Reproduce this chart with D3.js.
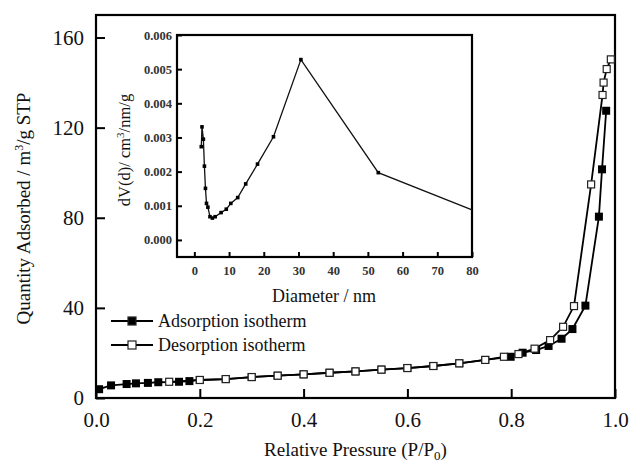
<!DOCTYPE html>
<html>
<head>
<meta charset="utf-8">
<script src="https://cdn.jsdelivr.net/npm/d3@7"></script>
<style>
  body { margin: 0; background: #fff; }
  svg text { font-family: "Liberation Serif", "Times New Roman", "DejaVu Serif", serif; }
</style>
</head>
<body>
<div id="chart"></div>
<script>
// main isotherm data (P/P0, quantity adsorbed)
const adsP = [0.006, 0.029, 0.059, 0.077, 0.10, 0.12, 0.16, 0.18, 0.20, 0.25, 0.30, 0.35, 0.40, 0.45, 0.50, 0.55, 0.60, 0.65, 0.70, 0.75, 0.799, 0.822, 0.848, 0.872, 0.897, 0.918, 0.943, 0.969, 0.975, 0.983];
const adsQ = [3.9, 5.6, 6.2, 6.5, 6.7, 7.0, 7.2, 7.5, 8.0, 8.4, 9.3, 9.9, 10.5, 11.2, 11.8, 12.6, 13.3, 14.2, 15.4, 16.9, 18.3, 20.1, 21.3, 23.1, 26.3, 30.6, 41.0, 80.5, 101.5, 127.5];
const desP = [0.141, 0.20, 0.25, 0.30, 0.35, 0.40, 0.45, 0.50, 0.55, 0.60, 0.65, 0.70, 0.75, 0.786, 0.814, 0.845, 0.875, 0.90, 0.921, 0.954, 0.976, 0.978, 0.984, 0.992];
const desQ = [7.2, 8.0, 8.4, 9.3, 9.9, 10.5, 11.2, 11.8, 12.6, 13.3, 14.2, 15.4, 16.9, 18.3, 19.5, 21.9, 25.7, 31.6, 40.8, 94.8, 134.5, 140.0, 146.0, 150.3];

// inset pore size distribution
const poreD = [2.0, 2.2, 2.6, 2.9, 3.2, 3.5, 3.9, 4.5, 5.2, 6.0, 7.7, 9.2, 10.5, 12.5, 14.8, 18.2, 22.8, 30.7, 53.0, 80.0];
const poreV = [0.00273, 0.00331, 0.00295, 0.00216, 0.00151, 0.00107, 0.00096, 0.00068, 0.00064, 0.00068, 0.0008, 0.0009, 0.00107, 0.00124, 0.00164, 0.00222, 0.00302, 0.00528, 0.00197, 0.00088];

const mainXTicks = [0, 0.2, 0.4, 0.6, 0.8, 1.0];
const mainYTicks = [0, 40, 80, 120, 160];
const insetXTicks = [0, 10, 20, 30, 40, 50, 60, 70, 80];
const insetYTicks = [0, 0.001, 0.002, 0.003, 0.004, 0.005, 0.006];

const serif = '"Liberation Serif", "Times New Roman", "DejaVu Serif", serif';
const width = 631, height = 465;
const svg = d3.select("#chart").append("svg")
    .attr("width", width)
    .attr("height", height)
    .attr("font-family", serif);

// main plot
const x = d3.scaleLinear().domain([0, 1]).range([96, 615]);
const y = d3.scaleLinear().domain([0, 170]).range([398, 15]);

const xAxis = svg.append("g")
    .attr("transform", `translate(0,${y(0)})`)
    .call(d3.axisBottom(x).tickValues(mainXTicks).tickFormat(d3.format(".1f"))
        .tickSizeInner(-9).tickSizeOuter(0).tickPadding(14));
const yAxis = svg.append("g")
    .attr("transform", `translate(${x(0)},0)`)
    .call(d3.axisLeft(y).tickValues(mainYTicks)
        .tickSizeInner(-9).tickSizeOuter(0).tickPadding(12));
[xAxis, yAxis].forEach(a => {
    a.attr("font-family", serif);
    a.select(".domain").remove();
    a.selectAll("line").attr("stroke", "#000").attr("stroke-width", 2);
    a.selectAll("text").attr("font-size", 21).attr("fill", "#111");
});

svg.append("rect")
    .attr("x", x(0)).attr("y", y(170))
    .attr("width", x(1) - x(0)).attr("height", y(0) - y(170))
    .attr("fill", "none").attr("stroke", "#000").attr("stroke-width", 2.2);

svg.append("text")
    .attr("x", (x(0) + x(1)) / 2).attr("y", 456)
    .attr("text-anchor", "middle").attr("font-size", 19).attr("fill", "#111")
    .html('Relative Pressure (P/P<tspan font-size="13" dy="4">0</tspan><tspan dy="-4">)</tspan>');

svg.append("text")
    .attr("transform", `translate(30,${(y(0) + y(170)) / 2 + 2}) rotate(-90)`)
    .attr("text-anchor", "middle").attr("font-size", 19).attr("fill", "#111")
    .html('Quantity Adsorbed / m<tspan font-size="12" dy="-7">3</tspan><tspan dy="7">/g STP</tspan>');

const line = d3.line().x(d => x(d[0])).y(d => y(d[1]));
const ads = adsP.map((p, i) => [p, adsQ[i]]);
const des = desP.map((p, i) => [p, desQ[i]]);
const sq = 8;

svg.append("path").datum(ads).attr("d", line)
    .attr("fill", "none").attr("stroke", "#000").attr("stroke-width", 1.8);
svg.append("path").datum(des).attr("d", line)
    .attr("fill", "none").attr("stroke", "#000").attr("stroke-width", 1.8);
svg.append("g").selectAll("rect").data(ads).join("rect")
    .attr("x", d => x(d[0]) - sq / 2).attr("y", d => y(d[1]) - sq / 2)
    .attr("width", sq).attr("height", sq).attr("fill", "#000");
svg.append("g").selectAll("rect").data(des).join("rect")
    .attr("x", d => x(d[0]) - sq / 2 + 0.5).attr("y", d => y(d[1]) - sq / 2 + 0.5)
    .attr("width", sq - 1).attr("height", sq - 1)
    .attr("fill", "#fff").attr("stroke", "#222").attr("stroke-width", 1.2);

// legend
const legend = [
    {label: "Adsorption isotherm", fill: "#000", yy: 321},
    {label: "Desorption isotherm", fill: "#fff", yy: 345}
];
legend.forEach(l => {
    svg.append("line").attr("x1", 111).attr("x2", 153).attr("y1", l.yy).attr("y2", l.yy)
        .attr("stroke", "#000").attr("stroke-width", 1.8);
    svg.append("rect").attr("x", 132 - 4).attr("y", l.yy - 4).attr("width", 8).attr("height", 8)
        .attr("fill", l.fill).attr("stroke", "#222").attr("stroke-width", 1.2);
    svg.append("text").attr("x", 158).attr("y", l.yy + 6)
        .attr("font-size", 18).attr("fill", "#111").text(l.label);
});

// inset
const ix = d3.scaleLinear().domain([-5, 80]).range([177, 472]);
const iy = d3.scaleLinear().domain([-0.0005, 0.006]).range([257, 35]);

const ixAxis = svg.append("g")
    .attr("transform", `translate(0,${iy(-0.0005)})`)
    .call(d3.axisBottom(ix).tickValues(insetXTicks)
        .tickSizeInner(-5).tickSizeOuter(0).tickPadding(9));
const iyAxis = svg.append("g")
    .attr("transform", `translate(${ix(-5)},0)`)
    .call(d3.axisLeft(iy).tickValues(insetYTicks).tickFormat(d3.format(".3f"))
        .tickSizeInner(-5).tickSizeOuter(0).tickPadding(5));
[ixAxis, iyAxis].forEach(a => {
    a.attr("font-family", serif);
    a.select(".domain").remove();
    a.selectAll("line").attr("stroke", "#000").attr("stroke-width", 2);
    a.selectAll("text").attr("font-size", 12.5).attr("font-weight", "bold").attr("fill", "#333");
});

svg.append("rect")
    .attr("x", ix(-5)).attr("y", iy(0.006))
    .attr("width", ix(80) - ix(-5)).attr("height", iy(-0.0005) - iy(0.006))
    .attr("fill", "none").attr("stroke", "#000").attr("stroke-width", 2.2);

svg.append("text")
    .attr("x", 324).attr("y", 302)
    .attr("text-anchor", "middle").attr("font-size", 18).attr("fill", "#111")
    .text("Diameter / nm");

svg.append("text")
    .attr("transform", "translate(130,150) rotate(-90)")
    .attr("text-anchor", "middle").attr("font-size", 16.5).attr("fill", "#111")
    .html('dV(d)/ cm<tspan font-size="11" dy="-6">3</tspan><tspan dy="6">/nm/g</tspan>');

const pore = poreD.map((d, i) => [d, poreV[i]]);
svg.append("path").datum(pore)
    .attr("d", d3.line().x(d => ix(d[0])).y(d => iy(d[1])))
    .attr("fill", "none").attr("stroke", "#111").attr("stroke-width", 1.3);
svg.append("g").selectAll("rect").data(pore.slice(0, -1)).join("rect")
    .attr("x", d => ix(d[0]) - 1.8).attr("y", d => iy(d[1]) - 1.8)
    .attr("width", 3.6).attr("height", 3.6).attr("fill", "#000");
</script>
</body>
</html>
